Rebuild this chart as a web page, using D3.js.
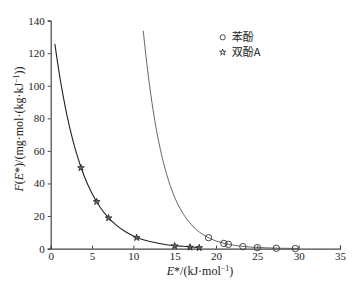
<!DOCTYPE html>
<html>
<head>
<meta charset="utf-8">
<script src="https://cdn.jsdelivr.net/npm/d3@7"></script>
<style>
  body { margin: 0; background: #fff; }
  svg text { font-family: "Liberation Serif", "Times New Roman", serif; fill: #222; }
  .cjk { font-family: "Noto Sans CJK SC", sans-serif; }
</style>
</head>
<body>
<div id="chart"></div>
<script>
var phenolX = [19.1, 20.95, 21.5, 23.25, 25.0, 27.3, 29.6];
var phenolY = [6.7, 3.2, 2.6, 1.2, 0.6, 0.2, 0.05];
var bpaX = [3.66, 5.56, 7.0, 10.4, 15.0, 16.85, 17.97];
var bpaY = [49.6, 28.8, 18.8, 6.7, 1.6, 0.8, 0.5];

// fitted curves, sampled by eye along the drawn lines
var bpaCurveX = [0.5, 1, 1.5, 2, 2.5, 3, 4, 5, 6, 7, 8, 9, 10, 11, 12, 13, 14, 15, 16, 17, 18];
var bpaCurveY = [125.7, 108.7, 93.9, 81.1, 70.1, 60.6, 45.2, 33.8, 25.2, 18.8, 14.1, 10.5, 7.8, 5.8, 4.4, 3.3, 2.4, 1.8, 1.4, 1.0, 0.76];
var phenolCurveX = [11.2, 11.5, 12, 12.5, 13, 13.5, 14, 14.5, 15, 16, 17, 18, 19, 20, 21, 22, 23, 24, 26, 28, 30];
var phenolCurveY = [133.7, 119.3, 98.6, 81.5, 67.4, 55.8, 46.1, 38.1, 31.5, 21.6, 14.8, 10.1, 6.9, 4.7, 3.2, 2.2, 1.5, 1.0, 0.5, 0.2, 0.1];

var xTicks = [0, 5, 10, 15, 20, 25, 30, 35];
var yTicks = [0, 20, 40, 60, 80, 100, 120, 140];
var legendNames = ["苯酚", "双酚A"];

var W = 358, H = 289;
var svg = d3.select("#chart").append("svg")
    .attr("width", W).attr("height", H);

var x = d3.scaleLinear().domain([0, 35]).range([50.7, 340]);
var y = d3.scaleLinear().domain([0, 140]).range([248.6, 20.6]);

// axes
var xAxis = svg.append("g")
    .attr("transform", "translate(0," + y(0) + ")")
    .call(d3.axisBottom(x).tickValues(xTicks).tickSize(-3).tickPadding(4));
var yAxis = svg.append("g")
    .attr("transform", "translate(" + x(0) + ",0)")
    .call(d3.axisLeft(y).tickValues(yTicks).tickSize(3).tickPadding(3));

[xAxis, yAxis].forEach(function(a){
  a.select(".domain").attr("stroke", "#444").attr("stroke-width", 1.2);
  a.selectAll(".tick line").attr("stroke", "#444");
  a.selectAll("text").style("font-size", "11px").attr("fill", "#222");
});

// curves
function pairs(xs, ys){ return xs.map(function(v, i){ return [v, ys[i]]; }); }
var line = d3.line().x(function(d){return x(d[0]);}).y(function(d){return y(d[1]);})
    .curve(d3.curveMonotoneX);

svg.append("path")
   .datum(pairs(phenolCurveX, phenolCurveY))
   .attr("d", line)
   .attr("fill", "none")
   .attr("stroke", "#555")
   .attr("stroke-width", 0.9);

svg.append("path")
   .datum(pairs(bpaCurveX, bpaCurveY))
   .attr("d", line)
   .attr("fill", "none")
   .attr("stroke", "#222")
   .attr("stroke-width", 1.1);

// markers
var star = d3.symbol().type(d3.symbolStar).size(14);

svg.selectAll(".phenol")
   .data(pairs(phenolX, phenolY))
   .enter().append("circle")
   .attr("class", "phenol")
   .attr("cx", function(d){return x(d[0]);})
   .attr("cy", function(d){return y(d[1]);})
   .attr("r", 3.2)
   .attr("fill", "none")
   .attr("stroke", "#333")
   .attr("stroke-width", 0.9);

svg.selectAll(".bpa")
   .data(pairs(bpaX, bpaY))
   .enter().append("path")
   .attr("class", "bpa")
   .attr("d", star)
   .attr("transform", function(d){return "translate(" + x(d[0]) + "," + y(d[1]) + ")";})
   .attr("fill", "#666")
   .attr("stroke", "#222")
   .attr("stroke-width", 0.8);

// legend
var lg = svg.append("g").attr("transform", "translate(222.7,37.3)");
lg.append("circle").attr("r", 2.6).attr("fill", "none").attr("stroke", "#333").attr("stroke-width", 0.9);
lg.append("path").attr("d", d3.symbol().type(d3.symbolStar).size(12))
  .attr("transform", "translate(0,15)")
  .attr("fill", "#fff").attr("stroke", "#222").attr("stroke-width", 0.8);
lg.selectAll(".lgtext")
  .data(legendNames)
  .enter().append("text")
  .attr("class", "cjk")
  .attr("x", 9)
  .attr("y", function(d, i){return i*15;})
  .attr("dy", "0.35em")
  .style("font-size", "11px")
  .text(function(d){return d;});

// axis titles
var xt = svg.append("text")
   .attr("x", 200).attr("y", 275)
   .attr("text-anchor", "middle")
   .style("font-size", "12px");
xt.append("tspan").style("font-style", "italic").text("E");
xt.append("tspan").text("*/(kJ·mol");
xt.append("tspan").attr("dy", -4).style("font-size", "8px").text("−1");
xt.append("tspan").attr("dy", 4).text(")");

var yt = svg.append("text")
   .attr("transform", "translate(23,129) rotate(-90)")
   .attr("text-anchor", "middle")
   .style("font-size", "12px");
yt.append("tspan").style("font-style", "italic").text("F");
yt.append("tspan").text("(");
yt.append("tspan").style("font-style", "italic").text("E");
yt.append("tspan").text("*)/(mg·mol·(kg·kJ");
yt.append("tspan").attr("dy", -4).style("font-size", "8px").text("−1");
yt.append("tspan").attr("dy", 4).text("))");
</script>
</body>
</html>
